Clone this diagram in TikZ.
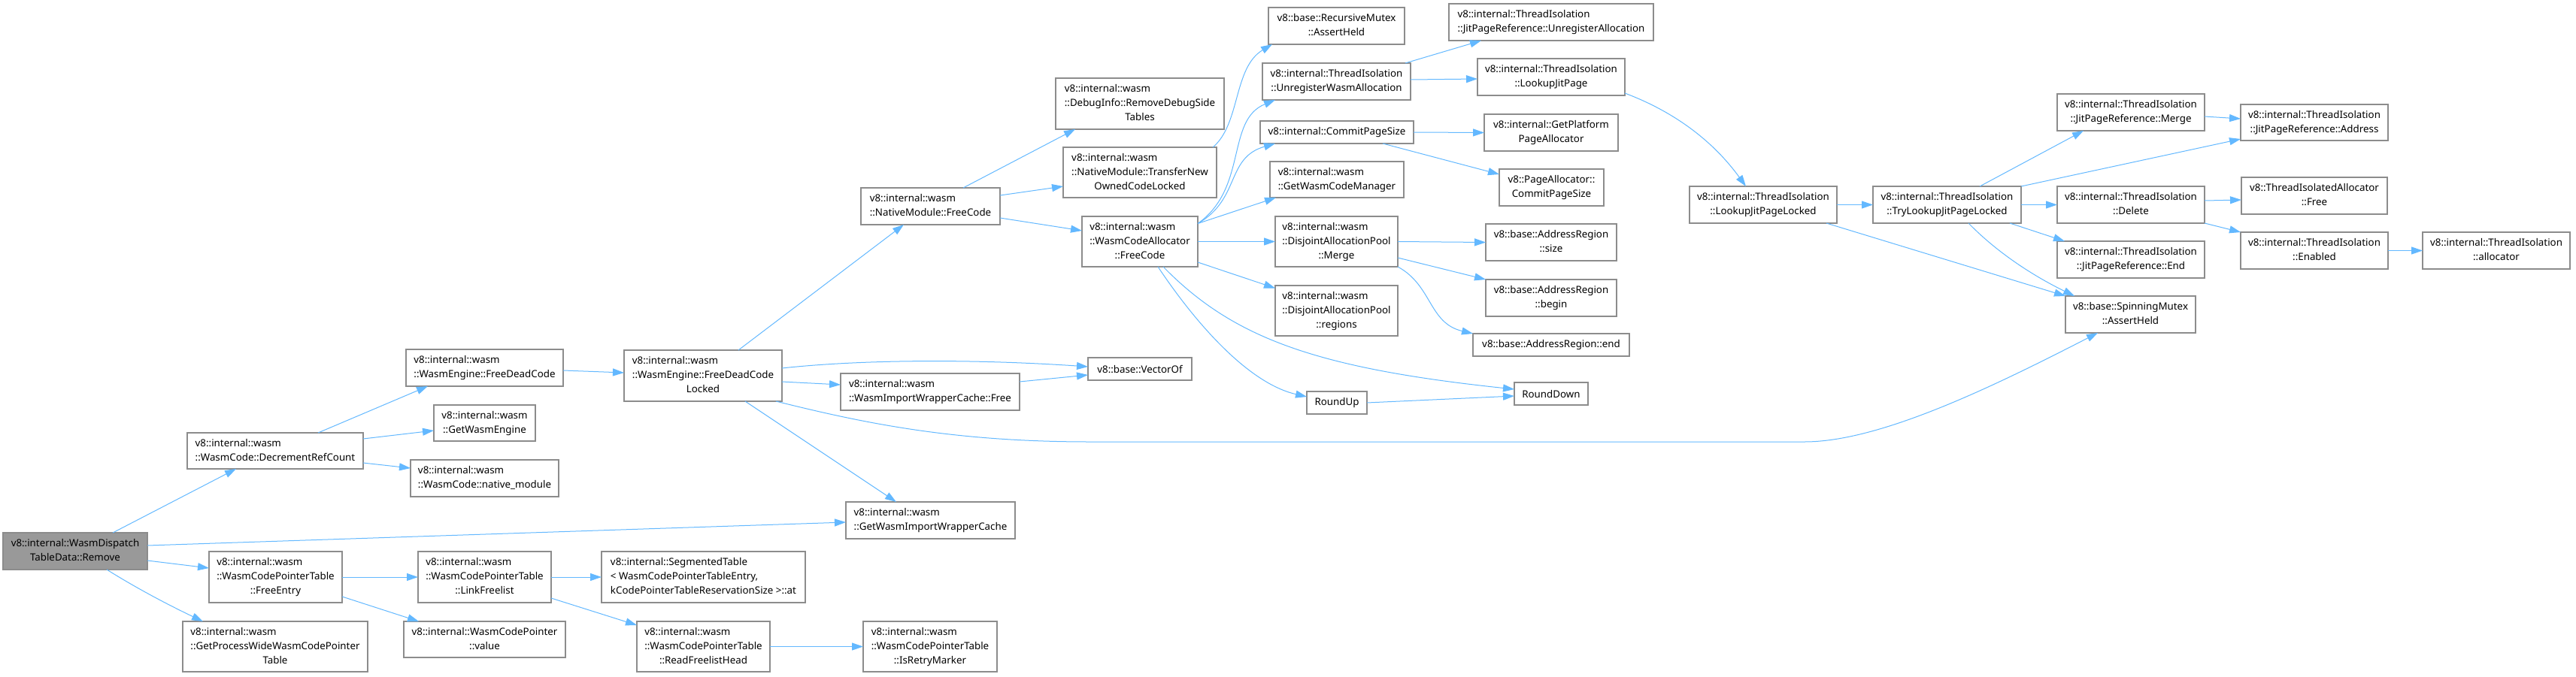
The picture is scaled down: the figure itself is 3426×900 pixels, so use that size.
\documentclass[tikz,border=0pt]{standalone}
\usepackage{fontspec}
\setmainfont{Noto Sans}
\usetikzlibrary{arrows.meta}
\definecolor{edgeblue}{HTML}{63B8FF}
\definecolor{boxline}{HTML}{8C8C8C}
\definecolor{curfill}{HTML}{999999}
\newcommand\two[2]{\begin{tabular}{@{}l@{}}#1\\\multicolumn{1}{@{}c@{}}{#2}\end{tabular}}
\newcommand\bx[7][]{\node[box,#1,minimum width={#5-#3},minimum height={#6-#4}] (#2) at ({(#3+#5)/2},{(#4+#6)/2}) {#7};}
\tikzset{
  box/.style={draw=boxline,line width=1.2pt,fill=white,rectangle,inner sep=0pt,outer sep=0pt},
  current/.style={fill=curfill},
  edge/.style={draw=edgeblue,line width=1pt,-{Triangle[length=15pt,width=10pt]},fill=none},
}
\begin{document}
\begin{tikzpicture}[x=1pt,y=-1pt,font=\fontsize{13.33}{19}\selectfont]
\useasboundingbox (0,0) rectangle (3426,900);
% nodes
\bx[current]{remove}{4}{709}{196}{758}{\two{v8::internal::WasmDispatch}{TableData::Remove}}
\bx{decref}{249}{576}{483}{624}{\two{v8::internal::wasm}{::WasmCode::DecrementRefCount}}
\bx{freeentry}{278}{734}{455}{802}{\two{v8::internal::wasm\\::WasmCodePointerTable}{::FreeEntry}}
\bx{getpw}{243}{827}{489}{894}{\two{v8::internal::wasm\\::GetProcessWideWasmCodePointer}{Table}}
\bx{fdc}{540}{465}{749}{514}{\two{v8::internal::wasm}{::WasmEngine::FreeDeadCode}}
\bx{gwe}{577}{539}{712}{587}{\two{v8::internal::wasm}{::GetWasmEngine}}
\bx{nm}{546}{612}{743}{661}{\two{v8::internal::wasm}{::WasmCode::native\_module}}
\bx{fdcl}{830}{466}{1040}{534}{\two{v8::internal::wasm\\::WasmEngine::FreeDeadCode}{Locked}}
\bx{link}{556}{734}{733}{802}{\two{v8::internal::wasm\\::WasmCodePointerTable}{::LinkFreelist}}
\bx{value}{537}{827}{752}{875}{\two{v8::internal::WasmCodePointer}{::value}}
\bx{seg}{800}{734}{1071}{802}{\two{v8::internal::SegmentedTable\\< WasmCodePointerTableEntry,}{kCodePointerTableReservationSize >::at}}
\bx{rfh}{847}{827}{1024}{894}{\two{v8::internal::wasm\\::WasmCodePointerTable}{::ReadFreelistHead}}
\bx{rdst}{1404}{104}{1628}{172}{\two{v8::internal::wasm\\::DebugInfo::RemoveDebugSide}{Tables}}
\bx{tnocl}{1414}{196}{1618}{263}{\two{v8::internal::wasm\\::NativeModule::TransferNew}{OwnedCodeLocked}}
\bx{nmfc}{1145}{250}{1330}{299}{\two{v8::internal::wasm}{::NativeModule::FreeCode}}
\bx{wcafc}{1439}{288}{1593}{355}{\two{v8::internal::wasm\\::WasmCodeAllocator}{::FreeCode}}
\bx{vecof}{1447}{476}{1585}{506}{v8::base::VectorOf}
\bx{iwcfree}{1118}{497}{1356}{546}{\two{v8::internal::wasm}{::WasmImportWrapperCache::Free}}
\bx{giwc}{1125}{668}{1350}{717}{\two{v8::internal::wasm}{::GetWasmImportWrapperCache}}
\bx{retry}{1148}{827}{1326}{894}{\two{v8::internal::wasm\\::WasmCodePointerTable}{::IsRetryMarker}}
\bx{rmah}{1687}{10}{1868}{59}{\two{v8::base::RecursiveMutex}{::AssertHeld}}
\bx{uwa}{1679}{84}{1876}{133}{\two{v8::internal::ThreadIsolation}{::UnregisterWasmAllocation}}
\bx{cps}{1676}{161}{1880}{191}{v8::internal::CommitPageSize}
\bx{gwcm}{1689}{215}{1867}{263}{\two{v8::internal::wasm}{::GetWasmCodeManager}}
\bx{merge}{1696}{288}{1859}{355}{\two{v8::internal::wasm\\::DisjointAllocationPool}{::Merge}}
\bx{regions}{1696}{380}{1859}{447}{\two{v8::internal::wasm\\::DisjointAllocationPool}{::regions}}
\bx{jpua}{1927}{5}{2199}{54}{\two{v8::internal::ThreadIsolation}{::JitPageReference::UnregisterAllocation}}
\bx{ljp}{1965}{78}{2161}{127}{\two{v8::internal::ThreadIsolation}{::LookupJitPage}}
\bx{gppa}{1974}{152}{2152}{201}{\two{v8::internal::GetPlatform}{PageAllocator}}
\bx{pacps}{1994}{225}{2133}{274}{\two{v8::PageAllocator::}{CommitPageSize}}
\bx{arsize}{1976}{298}{2150}{347}{\two{v8::base::AddressRegion}{::size}}
\bx{arbegin}{1976}{372}{2150}{421}{\two{v8::base::AddressRegion}{::begin}}
\bx{arend}{1959}{444}{2167}{474}{v8::base::AddressRegion::end}
\bx{roundup}{1738}{521}{1818}{551}{RoundUp}
\bx{rounddown}{2014}{509}{2112}{539}{RoundDown}
\bx{ljpl}{2247}{248}{2443}{297}{\two{v8::internal::ThreadIsolation}{::LookupJitPageLocked}}
\bx{tljpl}{2491}{248}{2688}{297}{\two{v8::internal::ThreadIsolation}{::TryLookupJitPageLocked}}
\bx{jpmerge}{2736}{125}{2932}{174}{\two{v8::internal::ThreadIsolation}{::JitPageReference::Merge}}
\bx{jpaddr}{2980}{139}{3176}{187}{\two{v8::internal::ThreadIsolation}{::JitPageReference::Address}}
\bx{del}{2736}{248}{2932}{297}{\two{v8::internal::ThreadIsolation}{::Delete}}
\bx{tiafree}{2981}{236}{3175}{285}{\two{v8::ThreadIsolatedAllocator}{::Free}}
\bx{jpend}{2736}{321}{2932}{370}{\two{v8::internal::ThreadIsolation}{::JitPageReference::End}}
\bx{enabled}{2980}{309}{3176}{358}{\two{v8::internal::ThreadIsolation}{::Enabled}}
\bx{alloc}{3222}{309}{3418}{358}{\two{v8::internal::ThreadIsolation}{::allocator}}
\bx{smah}{2747}{394}{2920}{443}{\two{v8::base::SpinningMutex}{::AssertHeld}}
% edges
\draw[edge] ([xshift=146pt]remove.north west) -- ([xshift=65pt]decref.south west);
\draw[edge] ([yshift=7.5pt]remove.east) -- ([yshift=-2.5pt]giwc.west);
\draw[edge] ([yshift=-12.5pt]remove.east) -- ([yshift=12pt]freeentry.west);
\draw[edge] ([xshift=138pt]remove.south west) .. controls +(43,27) and +(-40,-19) .. ([xshift=27pt]getpw.north west);
\draw[edge] ([xshift=174pt]decref.north west) -- ([xshift=29pt]fdc.south west);
\draw[edge] ([yshift=16pt]decref.east) -- ([yshift=-10pt]gwe.west);
\draw[edge] ([yshift=-16pt]decref.east) -- ([yshift=13.5pt]nm.west);
\draw[edge] ([yshift=-3.5pt]fdc.east) -- ([yshift=4pt]fdcl.west);
\draw[edge] ([xshift=152pt]fdcl.north west) -- ([xshift=57pt]nmfc.south west);
\draw[edge] ([yshift=10pt]fdcl.east) .. controls +(110,-12) and +(-147,-10) .. ([yshift=3pt]vecof.west);
\draw[edge] ([yshift=-8pt]fdcl.east) -- ([yshift=9.5pt]iwcfree.west);
\draw[edge] ([xshift=161pt]fdcl.south west) -- ([xshift=67pt]giwc.north west);
\draw[edge] ([xshift=-8pt]fdcl.south east) .. controls +(120,30) and +(-180,0) .. ++(418,54) -- ++(950,0) .. controls +(100,0) and +(-140,72) .. ([xshift=43pt]smah.south west);
\draw[edge] ([yshift=13.5pt]iwcfree.east) -- ([yshift=-8pt]vecof.west);
\draw[edge] ([xshift=136pt]nmfc.north west) -- ([xshift=26pt]rdst.south west);
\draw[edge] ([yshift=14.5pt]nmfc.east) -- ([yshift=-18.5pt]tnocl.west);
\draw[edge] ([yshift=-15.5pt]nmfc.east) -- ([yshift=14.5pt]wcafc.west);
\draw[edge] ([xshift=-5pt]tnocl.north east) .. controls +(37,-31) and +(-52,31) .. ([xshift=5pt]rmah.south west);
\draw[edge] ([yshift=24pt]wcafc.east) .. controls +(67,-47.5) and +(-66,27) .. ([xshift=17pt]uwa.south west);
\draw[edge] ([yshift=24pt]wcafc.east) .. controls +(57,-32.5) and +(-66,19) .. ([xshift=20pt]cps.south west);
\draw[edge] ([yshift=24pt]wcafc.east) -- ([xshift=8pt]gwcm.south west);
\draw[edge] (wcafc.east) -- (merge.west);
\draw[edge] ([yshift=-27.5pt]wcafc.east) -- ([yshift=30pt]regions.west);
\draw[edge] ([xshift=101pt]wcafc.south west) .. controls +(50,75) and +(-78,-18) .. ([yshift=8pt]roundup.west);
\draw[edge] ([xshift=108pt]wcafc.south west) .. controls +(93,95) and +(-264,-28) .. ([yshift=6pt]rounddown.west);
\draw[edge] ([xshift=-7pt]uwa.north east) -- ([xshift=43pt]jpua.south west);
\draw[edge] ([yshift=2.5pt]uwa.east) -- ([yshift=-2.5pt]ljp.west);
\draw[edge] ([yshift=-21.5pt]ljp.east) .. controls +(69,26) and +(-42,-58) .. ([xshift=75pt]ljpl.north west);
\draw[edge] (cps.east) -- (gppa.west);
\draw[edge] ([xshift=-41pt]cps.south east) -- ([yshift=17.5pt]pacps.west);
\draw[edge] (merge.east) -- (arsize.west);
\draw[edge] ([yshift=-21.5pt]merge.east) -- (arbegin.north west);
\draw[edge] (merge.south east) .. controls +(46,25) and +(-59,-14) .. (arend.north west);
\draw[edge] (roundup.east) -- ([yshift=-3pt]rounddown.west);
\draw[edge] (ljpl.east) -- (tljpl.west);
\draw[edge] ([xshift=-14pt]ljpl.south east) -- (smah.north west);
\draw[edge] ([xshift=142pt]tljpl.north west) -- ([xshift=35pt]jpmerge.south west);
\draw[edge] (tljpl.north east) -- ([yshift=-22pt]jpaddr.west);
\draw[edge] (tljpl.east) -- (del.west);
\draw[edge] ([xshift=-15pt]tljpl.south east) -- ([xshift=10pt]jpend.north west);
\draw[edge] ([xshift=127pt]tljpl.south west) .. controls +(42,43) and +(-49,-24) .. ([xshift=12pt]smah.north west);
\draw[edge] ([yshift=-5.5pt]jpmerge.east) -- ([yshift=5pt]jpaddr.west);
\draw[edge] ([yshift=5.5pt]del.east) -- ([yshift=-5.5pt]tiafree.west);
\draw[edge] (del.south east) -- (enabled.north west);
\draw[edge] (enabled.east) -- (alloc.west);
\draw[edge] (freeentry.east) -- (link.west);
\draw[edge] ([yshift=-26pt]freeentry.east) -- ([xshift=20pt]value.north west);
\draw[edge] (link.east) -- (seg.west);
\draw[edge] ([yshift=-28pt]link.east) -- ([yshift=-5pt]rfh.north west);
\draw[edge] (rfh.east) -- (retry.west);
\end{tikzpicture}
\end{document}
